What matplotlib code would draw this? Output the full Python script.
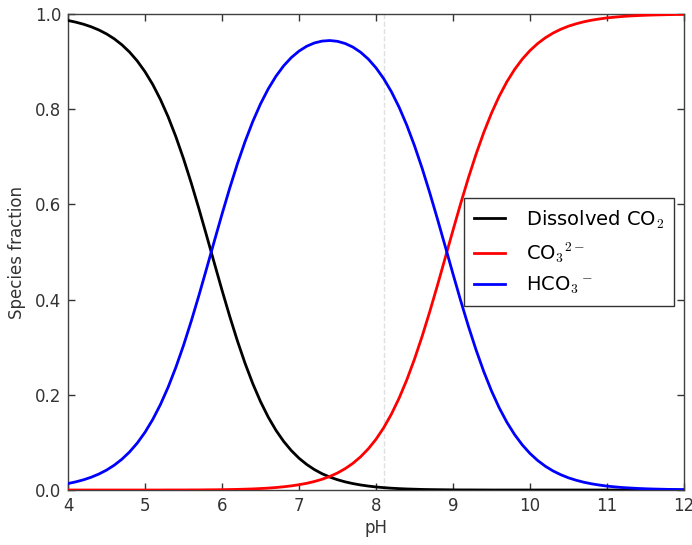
import matplotlib
matplotlib.use("Agg")
import matplotlib.pyplot as plt

pH = [4.0, 4.1, 4.2, 4.3, 4.4, 4.5, 4.6, 4.7, 4.8, 4.9,
      5.0, 5.1, 5.2, 5.3, 5.4, 5.5, 5.6, 5.7, 5.8, 5.9,
      6.0, 6.1, 6.2, 6.3, 6.4, 6.5, 6.6, 6.7, 6.8, 6.9,
      7.0, 7.1, 7.2, 7.3, 7.4, 7.5, 7.6, 7.7, 7.8, 7.9,
      8.0, 8.1, 8.2, 8.3, 8.4, 8.5, 8.6, 8.7, 8.8, 8.9,
      9.0, 9.1, 9.2, 9.3, 9.4, 9.5, 9.6, 9.7, 9.8, 9.9,
      10.0, 10.1, 10.2, 10.3, 10.4, 10.5, 10.6, 10.7, 10.8, 10.9,
      11.0, 11.1, 11.2, 11.3, 11.4, 11.5, 11.6, 11.7, 11.8, 11.9,
      12.0]

dissolved_co2 = [0.9864, 0.9829, 0.9786, 0.9732, 0.9665, 0.9582, 0.9479, 0.9353, 0.9199, 0.9012,
                 0.8787, 0.8520, 0.8205, 0.7841, 0.7425, 0.6960, 0.6452, 0.5909, 0.5343, 0.4768,
                 0.4198, 0.3649, 0.3133, 0.2659, 0.2233, 0.1858, 0.1533, 0.1256, 0.1023, 0.0829,
                 0.0668, 0.0537, 0.0429, 0.0342, 0.0272, 0.0216, 0.0171, 0.0135, 0.0106, 0.0083,
                 0.0064, 0.0050, 0.0038, 0.0029, 0.0022, 0.0017, 0.0012, 0.0009, 0.0007, 0.0005,
                 0.0003, 0.0002, 0.0002, 0.0001, 0.0001, 0.0000, 0.0000, 0.0000, 0.0000, 0.0000,
                 0.0000, 0.0000, 0.0000, 0.0000, 0.0000, 0.0000, 0.0000, 0.0000, 0.0000, 0.0000,
                 0.0000, 0.0000, 0.0000, 0.0000, 0.0000, 0.0000, 0.0000, 0.0000, 0.0000, 0.0000,
                 0.0000]

carbonate = [0.0000, 0.0000, 0.0000, 0.0000, 0.0000, 0.0000, 0.0000, 0.0000, 0.0000, 0.0000,
             0.0000, 0.0000, 0.0000, 0.0001, 0.0001, 0.0001, 0.0002, 0.0002, 0.0004, 0.0005,
             0.0007, 0.0010, 0.0013, 0.0018, 0.0023, 0.0031, 0.0040, 0.0052, 0.0068, 0.0087,
             0.0111, 0.0141, 0.0179, 0.0226, 0.0285, 0.0358, 0.0449, 0.0561, 0.0698, 0.0865,
             0.1066, 0.1308, 0.1594, 0.1929, 0.2314, 0.2750, 0.3233, 0.3757, 0.4311, 0.4883,
             0.5457, 0.6020, 0.6557, 0.7057, 0.7512, 0.7917, 0.8272, 0.8577, 0.8835, 0.9052,
             0.9232, 0.9380, 0.9501, 0.9600, 0.9680, 0.9744, 0.9795, 0.9837, 0.9870, 0.9896,
             0.9918, 0.9934, 0.9948, 0.9959, 0.9967, 0.9974, 0.9979, 0.9983, 0.9987, 0.9990,
             0.9992]

bicarbonate = [0.0136, 0.0171, 0.0214, 0.0268, 0.0335, 0.0418, 0.0521, 0.0647, 0.0801, 0.0988,
               0.1213, 0.1481, 0.1795, 0.2159, 0.2575, 0.3038, 0.3546, 0.4088, 0.4654, 0.5228,
               0.5795, 0.6341, 0.6854, 0.7323, 0.7743, 0.8111, 0.8426, 0.8691, 0.8910, 0.9085,
               0.9221, 0.9323, 0.9392, 0.9431, 0.9443, 0.9426, 0.9380, 0.9305, 0.9197, 0.9053,
               0.8869, 0.8642, 0.8367, 0.8042, 0.7664, 0.7233, 0.6755, 0.6234, 0.5683, 0.5113,
               0.4539, 0.3977, 0.3441, 0.2942, 0.2487, 0.2082, 0.1728, 0.1423, 0.1165, 0.0948,
               0.0768, 0.0620, 0.0499, 0.0400, 0.0321, 0.0256, 0.0205, 0.0163, 0.0130, 0.0104,
               0.0082, 0.0066, 0.0052, 0.0042, 0.0033, 0.0026, 0.0021, 0.0017, 0.0013, 0.0011,
               0.0008]

labels = ["Dissolved CO$_2$", "CO$_3$$^{2-}$", "HCO$_3$$^-$"]
colors = ["black", "red", "blue"]
seawater_pH = 8.1

plt.rcParams["mathtext.fontset"] = "cm"
plt.rcParams["font.family"] = ["DejaVu Sans"]

fig = plt.figure(figsize=(6.92, 5.45), dpi=100)
ax = fig.add_axes([0.0983, 0.1009, 0.8901, 0.8734])

ax.axvline(seawater_pH, color="0.88", linestyle="--", linewidth=1, zorder=1)
for y, lab, c in zip([dissolved_co2, carbonate, bicarbonate], labels, colors):
    ax.plot(pH, y, color=c, linewidth=2, label=lab, zorder=3)

ax.set_xlim(4, 12)
ax.set_ylim(0, 1.0)
ax.set_xticks(range(4, 13))
ax.set_yticks([0.0, 0.2, 0.4, 0.6, 0.8, 1.0])
ax.set_yticklabels(["0.0", "0.2", "0.4", "0.6", "0.8", "1.0"])
ax.tick_params(direction="in", top=True, right=True, length=5, width=1,
               labelsize=12, colors="0.2", pad=5)
for s in ax.spines.values():
    s.set_color("0.25")
    s.set_linewidth(1)
ax.set_xlabel("pH", fontsize=12, color="0.2", labelpad=3)
ax.set_ylabel("Species fraction", fontsize=12, color="0.2", labelpad=6)

leg = ax.legend(loc="center right", bbox_to_anchor=(0.984, 0.5), borderaxespad=0,
                fontsize=14, fancybox=False, framealpha=1, handlelength=1.6,
                handletextpad=1.1, borderpad=0.5, labelspacing=0.5)
leg.get_frame().set_edgecolor("0.2")
leg.get_frame().set_linewidth(1)

fig.savefig("out.png", dpi=100)
